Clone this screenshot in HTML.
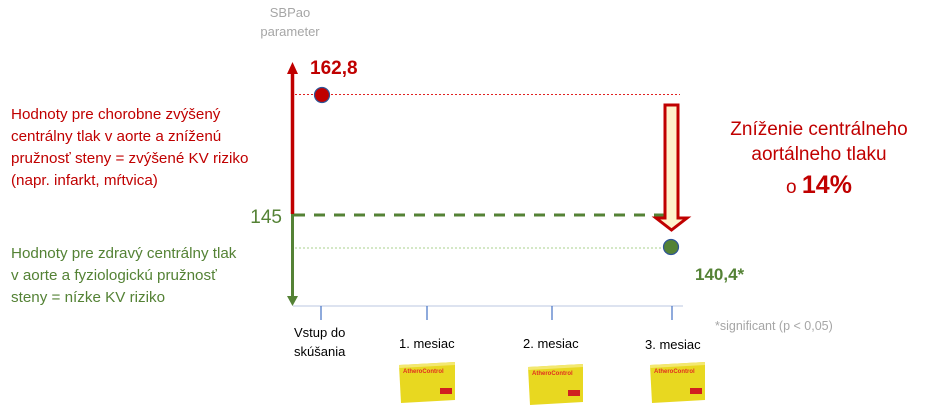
<!DOCTYPE html>
<html><head><meta charset="utf-8"><style>
html,body{margin:0;padding:0;background:#fff;}
svg text{font-family:"Liberation Sans",sans-serif;}
</style></head><body>
<svg width="932" height="408" viewBox="0 0 932 408" xmlns="http://www.w3.org/2000/svg">
<text x="290" y="17" font-size="13" fill="#a6a6a6" text-anchor="middle">SBPao</text>
<text x="290" y="36" font-size="13" fill="#a6a6a6" text-anchor="middle">parameter</text>
<text x="310" y="74" font-size="19" font-weight="bold" fill="#c00000">162,8</text>
<line x1="292.5" y1="72" x2="292.5" y2="214" stroke="#c00000" stroke-width="3.5"/>
<polygon points="292.5,62 287,74 298,74" fill="#c00000"/>
<line x1="292.5" y1="214" x2="292.5" y2="296" stroke="#548235" stroke-width="3"/>
<polygon points="292.5,306 287,296 298,296" fill="#548235"/>
<line x1="293" y1="306" x2="683" y2="306" stroke="#dde3f0" stroke-width="2"/>
<g stroke="#4472c4" stroke-width="1.2">
<line x1="321" y1="306" x2="321" y2="320"/><line x1="427" y1="306" x2="427" y2="320"/>
<line x1="552" y1="306" x2="552" y2="320"/><line x1="672" y1="306" x2="672" y2="320"/>
</g>
<line x1="295" y1="94.5" x2="680" y2="94.5" stroke="#e02020" stroke-width="1" stroke-dasharray="2,2"/>
<line x1="295" y1="248" x2="665" y2="248" stroke="#a9d18e" stroke-width="1" stroke-dasharray="2,2"/>
<line x1="294" y1="215" x2="668" y2="215" stroke="#548235" stroke-width="3" stroke-dasharray="11,9"/>
<circle cx="322" cy="95" r="7.5" fill="#c00000" stroke="#2f5597" stroke-width="1.2"/>
<circle cx="671" cy="247" r="7.5" fill="#548235" stroke="#2f5597" stroke-width="1.2"/>
<polygon points="665,105 678,105 678,218 687,218 671.5,230 656,218 665,218" fill="#fff2cc" stroke="#c00000" stroke-width="3" stroke-linejoin="miter"/>
<text x="282" y="223" font-size="19" fill="#548235" text-anchor="end">145</text>
<g font-size="15.2" fill="#c00000">
<text x="11" y="119">Hodnoty pre chorobne zvýšený</text>
<text x="11" y="141">centrálny tlak v aorte a zníženú</text>
<text x="11" y="163">pružnosť steny = zvýšené KV riziko</text>
<text x="11" y="185">(napr. infarkt, mŕtvica)</text>
</g>
<g font-size="15.2" fill="#548235">
<text x="11" y="258">Hodnoty pre zdravý centrálny tlak</text>
<text x="11" y="280">v aorte a fyziologickú pružnosť</text>
<text x="11" y="302">steny = nízke KV riziko</text>
</g>
<g font-size="19" fill="#c00000" text-anchor="middle">
<text x="819" y="135">Zníženie centrálneho</text>
<text x="819" y="160">aortálneho tlaku</text>
<text x="819" y="193"><tspan font-size="19">o </tspan><tspan font-size="25" font-weight="bold">14%</tspan></text>
</g>
<text x="695" y="280" font-size="17" font-weight="bold" fill="#548235">140,4*</text>
<text x="715" y="330" font-size="12.5" fill="#a6a6a6">*significant (p &lt; 0,05)</text>
<g font-size="13" fill="#000">
<text x="294" y="337">Vstup do</text>
<text x="294" y="356">skúšania</text>
<text x="399" y="348">1. mesiac</text>
<text x="523" y="348">2. mesiac</text>
<text x="645" y="349">3. mesiac</text>
</g>
<g>
<g transform="translate(399,362)">
<polygon points="0,3 56,0 56,38 2,41" fill="#e8d820"/><polygon points="0,3 56,0 56,3 0,6" fill="#f3e870"/>
<text x="4" y="11" font-size="6" font-weight="bold" fill="#e03020">AtheroControl</text>
<rect x="41" y="26" width="12" height="6" fill="#d02020"/>
</g>
<g transform="translate(528,364)">
<polygon points="0,3 55,0 55,38 2,41" fill="#e8d820"/><polygon points="0,3 55,0 55,3 0,6" fill="#f3e870"/>
<text x="4" y="11" font-size="6" font-weight="bold" fill="#e03020">AtheroControl</text>
<rect x="40" y="26" width="12" height="6" fill="#d02020"/>
</g>
<g transform="translate(650,362)">
<polygon points="0,3 55,0 55,38 2,41" fill="#e8d820"/><polygon points="0,3 55,0 55,3 0,6" fill="#f3e870"/>
<text x="4" y="11" font-size="6" font-weight="bold" fill="#e03020">AtheroControl</text>
<rect x="40" y="26" width="12" height="6" fill="#d02020"/>
</g>
</g>
</svg>
</body></html>
